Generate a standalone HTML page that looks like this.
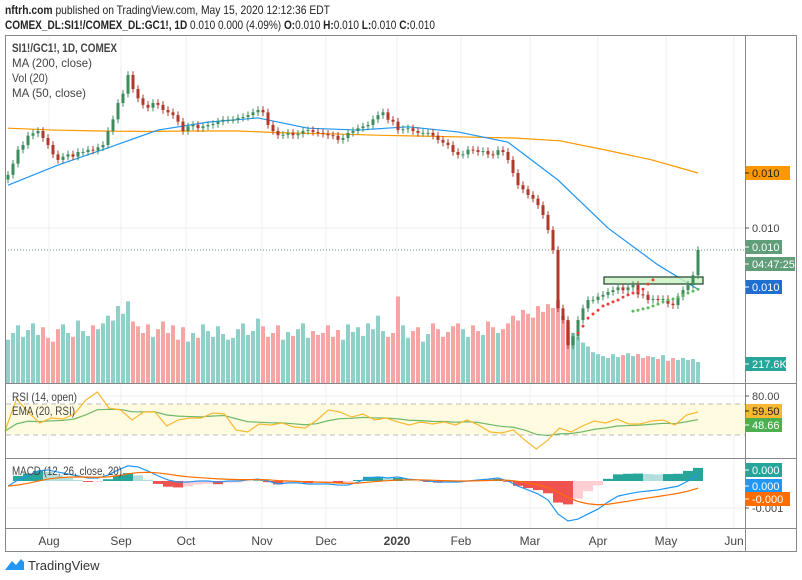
<!DOCTYPE html>
<html><head><meta charset="utf-8"><style>
body{margin:0;background:#fff;font-family:"Liberation Sans",sans-serif;}
svg{display:block}
text{font-family:"Liberation Sans",sans-serif;}
</style></head><body>
<svg id="c" width="802" height="580" xmlns="http://www.w3.org/2000/svg">
<rect x="0" y="0" width="802" height="580" fill="#fff"/>
<text x="5" y="14" font-size="12" fill="#222" textLength="325" lengthAdjust="spacingAndGlyphs"><tspan font-weight="bold">nftrh.com</tspan> published on TradingView.com, May 15, 2020 12:12:36 EDT</text>
<text x="5" y="29" font-size="12" fill="#222" textLength="430" lengthAdjust="spacingAndGlyphs"><tspan font-weight="bold">COMEX_DL:SI1!/COMEX_DL:GC1!, 1D</tspan> 0.010 0.000 (4.09%) <tspan font-weight="bold">O:</tspan>0.010 <tspan font-weight="bold">H:</tspan>0.010 <tspan font-weight="bold">L:</tspan>0.010 <tspan font-weight="bold">C:</tspan>0.010</text>
<g id="grid" stroke="#efefef" stroke-width="1"></g>
<g id="vol"></g><g id="ma"></g><g id="candles"></g><g id="sar"></g>
<g id="rsi"></g><g id="macd"></g>
<g id="frame" fill="none" stroke="#888" stroke-width="1">
<rect x="5.5" y="35.5" width="791" height="516"/>
<line x1="745.5" y1="35" x2="745.5" y2="552"/>
<line x1="5" y1="383.5" x2="797" y2="383.5"/>
<line x1="5" y1="458.5" x2="797" y2="458.5"/>
<line x1="5" y1="528.5" x2="797" y2="528.5"/>
</g>
<g id="labels"></g>
<g font-size="12" fill="#444">
<text x="12" y="52" font-weight="bold" textLength="105" lengthAdjust="spacingAndGlyphs">SI1!/GC1!, 1D, COMEX</text>
<text x="12" y="67" textLength="80" lengthAdjust="spacingAndGlyphs">MA (200, close)</text>
<text x="12" y="82" textLength="36" lengthAdjust="spacingAndGlyphs">Vol (20)</text>
<text x="12" y="97" textLength="74" lengthAdjust="spacingAndGlyphs">MA (50, close)</text>
<text x="12" y="401" textLength="65" lengthAdjust="spacingAndGlyphs">RSI (14, open)</text>
<text x="12" y="415" textLength="63" lengthAdjust="spacingAndGlyphs">EMA (20, RSI)</text>
<text x="12" y="475" textLength="110" lengthAdjust="spacingAndGlyphs">MACD (12, 26, close, 20)</text>
</g>
<g>
<path d="M5 570 L12 561 L16 565 L21 559 L24 562 L24 570 Z" fill="#2196f3"/>
<text x="28" y="570" font-size="13" fill="#333">TradingView</text>
</g>
</svg>
<script>
const closes=[98.6,101,104,105,107,107.5,108,106.5,105,
103,101.8,102.5,103,102.5,103.5,103.5,104,103.8,
104.5,105,108,110.5,114,116,120,117,115,
113.6,113,114,113.6,112.5,112,111.4,110,108,
109,109.3,108.6,109,109.3,109.5,110,110.4,110.4,
110.4,110.8,111,111.4,112,112.5,112,109.3,108,
107.1,107.2,107.6,107.1,107.4,108,108.2,107.8,107.6,
107.4,107.1,107,106.1,106.5,107.6,108,108.6,109,
109.3,110.5,111.4,112,110.4,110,108.2,108.4,108.6,
108,107.6,107.6,107.6,107,106.1,105.5,105,103.5,
102.9,103,104,103.9,103.5,103.7,103,102.9,103.9,
103.5,101.8,99,96.4,95.5,94.3,93.5,92.1,90,
86.8,82.5,70,67.5,62.1,64,67.5,70,71.8,
71.8,72.5,72.9,73.5,73.9,74.5,73.9,74.5,75,
73,72.9,71.8,72,71.8,72,71,70.7,72.5,
73.9,75,77.1,82.5];
const volumes=[450,520,600,480,550,620,500,580,470,
430,560,610,520,480,650,540,490,600,
560,620,700,650,800,720,850,640,590,
520,610,480,560,640,520,600,450,580,
430,520,470,610,540,480,590,510,450,
470,560,620,500,540,670,590,480,520,
600,450,530,490,560,620,470,540,500,
520,600,480,550,450,610,530,580,490,
620,560,700,540,480,520,900,600,470,
540,580,430,510,620,560,480,530,590,
620,560,480,600,540,500,640,580,520,
560,620,700,650,760,720,680,800,740,
820,780,860,700,640,520,480,420,380,
320,300,280,260,300,270,290,310,280,
300,260,280,270,250,290,230,260,240,
260,240,250,217.6];
const ma200=[108.6,108.2,108,107.9,108,108,107.6,107.4,107.1,106.9,106.7,106.5,105.9,103.9,101.8,99];
const ma50=[96.4,100.7,104.4,108.2,109.9,110.8,108.6,108.2,108.9,107.8,105.6,97.5,87.2,79.3,74.1];
const sarRed=[64.7,66.2,67.9,68.8,69.6,70.5,70.9,71.4,71.8,72.4,72.9,73.3,73.7,74.1,75.2,76.1];
const sarGreen=[69.4,69.6,69.9,70.1,70.5,70.9,71.4,71.8,72,72.4,72.9,73.3,73.7,74.1];
const rsiVals=[35.2,76.5,59.7,45.5,51.9,50.6,57.1,75.2,85.5,64.8,62.3,49.4,59.7,59.7,41.6,49.4,51.9,51.9,58.4,57.1,36.5,33.9,44.2,42.9,45.5,40.3,39,49.4,62.3,59.7,53.2,57.1,49.4,51.9,46.8,42.9,46.8,44.2,46.8,42.9,49.4,42.9,33.9,32.6,36.5,23.5,11.9,23.5,39,33.9,41.6,48.1,45.5,50.6,44.2,44.2,48.1,49.4,42.9,55.8,59.7];
const macdVals=[-1.9,0.4,1.9,3.7,4.1,3.3,2.6,1.9,1.1,1.1,2.2,4.1,5.6,5.2,3.7,1.9,0.4,-0.4,-0.4,0,0,-0.4,0,0,0.4,0.7,0,-1.1,-0.7,-0.7,-1.1,-1.1,-1.1,-1.5,-1.5,-0.4,1.1,1.5,1.1,1.5,0.7,0.4,0,-0.4,-0.4,-0.4,0,0.4,0.7,1.1,0,-1.9,-3.3,-4.8,-7,-12.2,-14.8,-14.1,-12.2,-10.4,-7.8,-5.6,-4.8,-4.1,-3.7,-3.3,-2.6,-1.9,0,2.2];
const months=["Aug","Sep","Oct","Nov","Dec","2020","Feb","Mar","Apr","May","Jun"];
const monthBars=[8.2,22.6,35.6,50.8,63.6,77.8,90.6,104.4,118,131.6,145.2];

const NS="http://www.w3.org/2000/svg";
function el(tag,attrs,parent,txt){const e=document.createElementNS(NS,tag);for(const k in attrs)e.setAttribute(k,attrs[k]);if(txt!==undefined)e.textContent=txt;document.getElementById(parent).appendChild(e);return e;}
const xBar=i=>8+5*i;
const yP=v=>75+(120-v)*4.667;
const yV=v=>383-v/10.4;
const xR=k=>5+k*693/(rsiVals.length-1);
const yR=r=>404-(r-70)*0.775;
const xM=k=>8+10*k;
const yM=v=>481-v*2.7;
const UP="#3d8c5c",DN="#b0392c";

monthBars.forEach((b,i)=>{
  const g=el('line',{x1:xBar(b),x2:xBar(b),y1:36,y2:528},'grid');
  
  
  const t=el('text',{x:xBar(b),y:545,'font-size':12,'text-anchor':'middle',fill:'#444','font-weight':months[i]==='2020'?'bold':'normal'},'labels',months[i]);
  
  
});
el('line',{x1:5,x2:745,y1:228,y2:228},'grid');
el('line',{x1:5,x2:745,y1:396,y2:396},'grid');
el('line',{x1:5,x2:745,y1:508,y2:508},'grid');

closes.forEach((c,i)=>{
  const o=i?closes[i-1]:c;
  const r=el('rect',{x:xBar(i)-2,y:yV(volumes[i]),width:4,height:383-yV(volumes[i]),fill:c>=o?'#8fd0c8':'#f5a5a4'},'vol');
  
  
});
el('line',{x1:5,x2:745,y1:yP(closes[closes.length-1]),y2:yP(closes[closes.length-1]),stroke:'#5f9e78','stroke-dasharray':'1,2'},'ma');
function poly(vals,xf,yf,color,name,parent){
  const p=el('polyline',{points:vals.map((v,k)=>xf(k)+','+yf(v)).join(' '),fill:'none',stroke:color,'stroke-width':1.2},parent);
  
  
}
poly(ma200,k=>xBar(Math.min(k*9.2,138)),yP,'#ff9800','ma200-line','ma');
poly(ma50,k=>xBar(Math.min(k*10,138)),yP,'#2196f3','ma50-line','ma');
const bx=el('rect',{x:604,y:277,width:99,height:7,fill:'#c8f0c0','fill-opacity':0.8,stroke:'#1f3f2a','stroke-width':1.2},'ma');


closes.forEach((c,i)=>{
  const o=i?closes[i-1]:c-1;
  const hi=Math.max(o,c)+0.8, lo=Math.min(o,c)-0.8;
  const col=c>=o?UP:DN;
  el('line',{x1:xBar(i),x2:xBar(i),y1:yP(hi),y2:yP(lo),stroke:col},'candles');
  const top=yP(Math.max(o,c)),h=Math.max(1,yP(Math.min(o,c))-top);
  const r=el('rect',{x:xBar(i)-1.5,y:top,width:3,height:h,fill:col},'candles');
  
  
});
sarRed.forEach((v,k)=>{const d=el('circle',{cx:xBar(114+k),cy:yP(v),r:1.5,fill:'#f23c3c'},'sar');});
sarGreen.forEach((v,k)=>{const d=el('circle',{cx:xBar(125+k),cy:yP(v),r:1.5,fill:'#5cb85c'},'sar');});

el('rect',{x:6,y:yR(70),width:739,height:yR(30)-yR(70),fill:'#fffbe0'},'rsi');
el('line',{x1:6,x2:745,y1:yR(70),y2:yR(70),stroke:'#bbb','stroke-dasharray':'5,4'},'rsi');
el('line',{x1:6,x2:745,y1:yR(30),y2:yR(30),stroke:'#bbb','stroke-dasharray':'5,4'},'rsi');
const ema=[];const a=2/(8+1);
rsiVals.forEach((r,k)=>ema.push(k?ema[k-1]+a*(r-ema[k-1]):r));
poly(ema,xR,yR,'#6fb86a','rsi-ema-line','rsi');
poly(rsiVals,xR,yR,'#f9b832','rsi-line','rsi');

const sig=[];const b=2/(10+1);
macdVals.forEach((v,k)=>sig.push(k?sig[k-1]+b*(v-sig[k-1]):v));
let prev=0;
macdVals.forEach((v,k)=>{
  const h=v-sig[k];
  const col=h>=0?(h>=prev?'#26a69a':'#b2dfdb'):(h<prev?'#ef5350':'#ffcdd2');
  prev=h;
  const y0=yM(0),y1=yM(h);
  const r=el('rect',{x:xM(k)-5,y:Math.min(y0,y1),width:10,height:Math.abs(y1-y0)+0.01,fill:col},'macd');
  
  
});
poly(macdVals,xM,yM,'#2196f3','macd-line','macd');
poly(sig,xM,yM,'#ff6d00','signal-line','macd');

function tag(y,txt,bg,fg,w,name){
  if(bg){const r=el('rect',{x:746,y:y-7,width:w,height:14,fill:bg},'labels');}
  el('line',{x1:745,x2:749,y1:y,y2:y,stroke:bg?fg:'#555'},'labels');
  const t=el('text',{x:752,y:y+4,'font-size':11,fill:fg},'labels',txt);
  
  
}
tag(173,'0.010','#ff9800','#222',44,'ma200-price-tag');
tag(228,'0.010',null,'#444',0,'price-tick');
tag(247,'0.010','#5f9e78','#fff',36,'last-price-tag');
tag(264,'04:47:25','#5f9e78','#fff',49,'countdown-tag');
tag(287,'0.010','#1e6fd0','#fff',36,'ma50-price-tag');
tag(364,'217.6K','#26a69a','#fff',40,'volume-tag');
tag(396,'80.00',null,'#444',0,'rsi-tick');
tag(411,'59.50','#f9b832','#222',36,'rsi-tag');
tag(425,'48.66','#4caf50','#fff',36,'rsi-ema-tag');
tag(470,'0.000','#26a69a','#fff',36,'macd-hist-tag');
tag(486,'0.000','#2196f3','#fff',36,'macd-tag');
tag(508,'-0.001',null,'#444',0,'macd-tick');
tag(499,'-0.000','#ff6d00','#fff',44,'signal-tag');
</script>
</body></html>
